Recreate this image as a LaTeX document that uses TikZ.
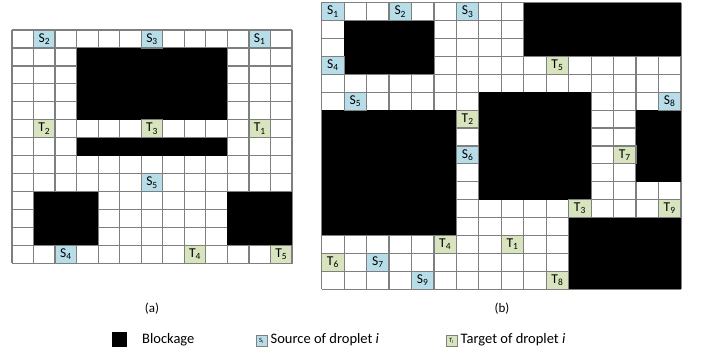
\documentclass[tikz,border=0pt]{standalone}
\usepackage{fontspec}
\setmainfont{Carlito}
\definecolor{GridGray}{HTML}{7F7F7F}
\definecolor{SrcBlue}{HTML}{B7DDE8}
\definecolor{TgtGreen}{HTML}{D7E4BD}

\begin{document}
\begin{tikzpicture}[x=1pt,y=-1pt,
  gridline/.style={draw=GridGray,line width=1.2pt},
  block/.style={fill=black},
  src/.style={draw=GridGray,line width=1.2pt,fill=SrcBlue,inner sep=0pt,
    font=\fontsize{13.5}{14}\selectfont},
  tgt/.style={draw=GridGray,line width=1.2pt,fill=TgtGreen,inner sep=0pt,
    font=\fontsize{13.5}{14}\selectfont},
  keytext/.style={anchor=west,inner sep=1pt,font=\fontsize{14.5}{16}\selectfont}]
  \useasboundingbox (0,0) rectangle (702,351);

  % grid (a), 13 x 13
  \begin{scope}[shift={(12,30)},x=21.54pt,y=-17.95pt,
    every node/.append style={minimum width=21.54pt,minimum height=17.95pt}]
    \foreach \i in {0,...,13}
      \draw[gridline] (\i,0) -- (\i,13) (0,\i) -- (13,\i);
    \fill[block] (3,1) rectangle (10,5);
    \fill[block] (3,6) rectangle (10,7);
    \fill[block] (1,9) rectangle (4,12);
    \fill[block] (10,9) rectangle (13,12);
    \node[src] (a-s1) at (11.5,0.5) {S\textsubscript{1}};
    \node[src] (a-s2) at (1.5,0.5) {S\textsubscript{2}};
    \node[src] (a-s3) at (6.5,0.5) {S\textsubscript{3}};
    \node[src] (a-s4) at (2.5,12.5) {S\textsubscript{4}};
    \node[src] (a-s5) at (6.5,8.5) {S\textsubscript{5}};
    \node[tgt] (a-t1) at (11.5,5.5) {T\textsubscript{1}};
    \node[tgt] (a-t2) at (1.5,5.5) {T\textsubscript{2}};
    \node[tgt] (a-t3) at (6.5,5.5) {T\textsubscript{3}};
    \node[tgt] (a-t4) at (8.5,12.5) {T\textsubscript{4}};
    \node[tgt] (a-t5) at (12.5,12.5) {T\textsubscript{5}};
  \end{scope}

  % grid (b), 16 x 16
  \begin{scope}[shift={(321.7,2.7)},x=22.45pt,y=-17.9pt,
    every node/.append style={minimum width=22.45pt,minimum height=17.9pt}]
    \foreach \i in {0,...,16}
      \draw[gridline] (\i,0) -- (\i,16) (0,\i) -- (16,\i);
    \fill[block] (9,0) rectangle (16,3);
    \fill[block] (1,1) rectangle (5,4);
    \fill[block] (7,5) rectangle (12,11);
    \fill[block] (0,6) rectangle (6,13);
    \fill[block] (14,6) rectangle (16,10);
    \fill[block] (11,12) rectangle (16,16);
    \node[src] (b-s1) at (0.5,0.5) {S\textsubscript{1}};
    \node[src] (b-s2) at (3.5,0.5) {S\textsubscript{2}};
    \node[src] (b-s3) at (6.5,0.5) {S\textsubscript{3}};
    \node[src] (b-s4) at (0.5,3.5) {S\textsubscript{4}};
    \node[src] (b-s5) at (1.5,5.5) {S\textsubscript{5}};
    \node[src] (b-s6) at (6.5,8.5) {S\textsubscript{6}};
    \node[src] (b-s7) at (2.5,14.5) {S\textsubscript{7}};
    \node[src] (b-s8) at (15.5,5.5) {S\textsubscript{8}};
    \node[src] (b-s9) at (4.5,15.5) {S\textsubscript{9}};
    \node[tgt] (b-t1) at (8.5,13.5) {T\textsubscript{1}};
    \node[tgt] (b-t2) at (6.5,6.5) {T\textsubscript{2}};
    \node[tgt] (b-t3) at (11.5,11.5) {T\textsubscript{3}};
    \node[tgt] (b-t4) at (5.5,13.5) {T\textsubscript{4}};
    \node[tgt] (b-t5) at (10.5,3.5) {T\textsubscript{5}};
    \node[tgt] (b-t6) at (0.5,14.5) {T\textsubscript{6}};
    \node[tgt] (b-t7) at (13.5,8.5) {T\textsubscript{7}};
    \node[tgt] (b-t8) at (10.5,15.5) {T\textsubscript{8}};
    \node[tgt] (b-t9) at (15.5,11.5) {T\textsubscript{9}};
  \end{scope}

  % captions
  \node[font=\fontsize{13}{14}\selectfont] (capa) at (152,309) {(a)};
  \node[font=\fontsize{13}{14}\selectfont] (capb) at (502,309) {(b)};

  % legend
  \node[block,minimum size=15pt,inner sep=0pt] (keyblock) at (119.5,339.5) {};
  \node[keytext] (keyblocktext) at (141,340) {Blockage};
  \node[src,line width=0.8pt,minimum size=11pt,font=\fontsize{6.5}{7}\selectfont]
    (keysrc) at (261.5,340.5) {S\textsubscript{i}};
  \node[keytext] (keysrctext) at (269.5,340) {Source of droplet \textit{i}};
  \node[tgt,line width=0.8pt,minimum size=11pt,font=\fontsize{6.5}{7}\selectfont]
    (keytgt) at (451.5,340.5) {T\textsubscript{i}};
  \node[keytext] (keytgttext) at (459.5,340) {Target of droplet \textit{i}};
\end{tikzpicture}
\end{document}
